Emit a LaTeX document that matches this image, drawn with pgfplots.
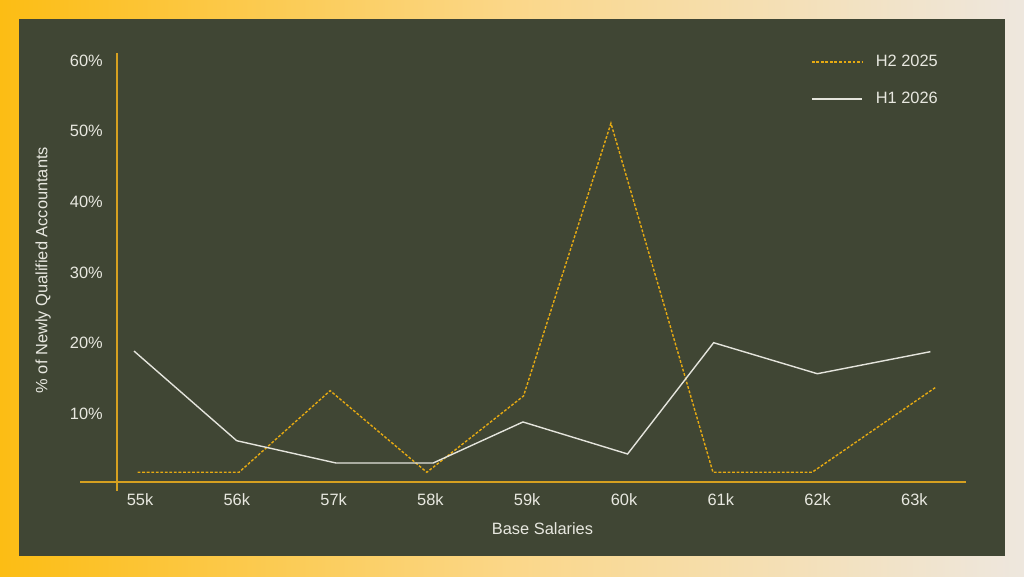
\documentclass[border=0pt]{standalone}
\usepackage{pgfplots}
\pgfplotsset{compat=1.18}
\usepackage{fontspec}
\setmainfont{Liberation Sans}
\definecolor{panel}{HTML}{404634}
\definecolor{axisor}{HTML}{D6A020}
\definecolor{dashor}{HTML}{E6AA12}
\definecolor{lightln}{HTML}{E4E4DC}
\definecolor{txt}{HTML}{E8E8E0}
\definecolor{bgL}{HTML}{FCBD14}
\definecolor{bgM}{HTML}{FBD789}
\definecolor{bgR}{HTML}{EEE7DE}
\pgfplotstableread{
x y
-0.024 1.80
1.023 1.80
1.964 13.35
2.963 1.80
3.962 12.60
4.865 51.19
5.919 1.80
6.943 1.80
8.220 13.83
}\hTwo
\pgfplotstableread{
x y
-0.062 18.96
0.999 6.27
2.026 3.11
3.028 3.11
3.956 8.92
5.037 4.39
5.926 20.14
6.997 15.75
8.165 18.87
}\hOne
\begin{document}
\begin{tikzpicture}[x=1pt,y=1pt]
\fontsize{12.3}{14.5}\selectfont
% background (1px = 0.75pt, 1024x576 px)
\shade[left color=bgL, right color=bgR, middle color=bgM] (0,0) rectangle (768,432);
\fill[panel] (14.25,14.81) rectangle (753.5,417.75);
\begin{axis}[
  at={(60pt,70.5pt)}, anchor=south west,
  scale only axis, width=664.5pt, height=321.75pt,
  xmin=-0.6198, xmax=8.533, ymin=0.425, ymax=61.14,
  axis line style={draw=none},
  clip=false,
  major tick length=0pt,
  xtick={0,1,2,3,4,5,6,7,8},
  xticklabels={55k,56k,57k,58k,59k,60k,61k,62k,63k},
  ytick={10,20,30,40,50,60},
  yticklabels={10\%,20\%,30\%,40\%,50\%,60\%},
  ticklabel style={text=txt, font=\fontsize{12.3}{14.5}\selectfont, inner sep=0pt},
  xticklabel style={anchor=base, yshift=-17.25pt},
  yticklabel style={anchor=base east, xshift=17.25pt, yshift=-3.75pt},
  xlabel={Base Salaries},
  ylabel={\% of Newly Qualified Accountants},
  xlabel style={at={(axis description cs:0.522,-0.1212)}, anchor=base, inner sep=0pt, text=txt, font=\fontsize{12.3}{14.5}\selectfont},
  ylabel style={at={(axis description cs:-0.0367,0.494)}, anchor=base, rotate=0, inner sep=0pt, text=txt, font=\fontsize{12.3}{14.5}\selectfont},
  legend style={at={(axis cs:6.93,60.9)}, anchor=north west, draw=none, fill=none,
    text=txt, font=\fontsize{12.3}{14.5}\selectfont, row sep=17.5pt, inner sep=0pt,
    nodes={inner sep=0pt}, column sep=10pt},
  legend cell align=left,
  legend image code/.code={\draw[#1] (0pt,0pt) -- (37.5pt,0pt);},
]
\draw[axisor, line width=1.2pt] (axis cs:-0.6198,0.425) -- (axis cs:8.533,0.425);
\draw[axisor, line width=1.2pt] (axis cs:-0.2377,-0.8) -- (axis cs:-0.2377,61.14);
\addplot[dashor, line width=1.05pt, dash pattern=on 2.1pt off 1.3pt] table[x=x,y=y] {\hTwo};
\addlegendentry{H2 2025}
\addplot[lightln, line width=1.05pt] table[x=x,y=y] {\hOne};
\addlegendentry{H1 2026}
\end{axis}
\end{tikzpicture}
\end{document}
